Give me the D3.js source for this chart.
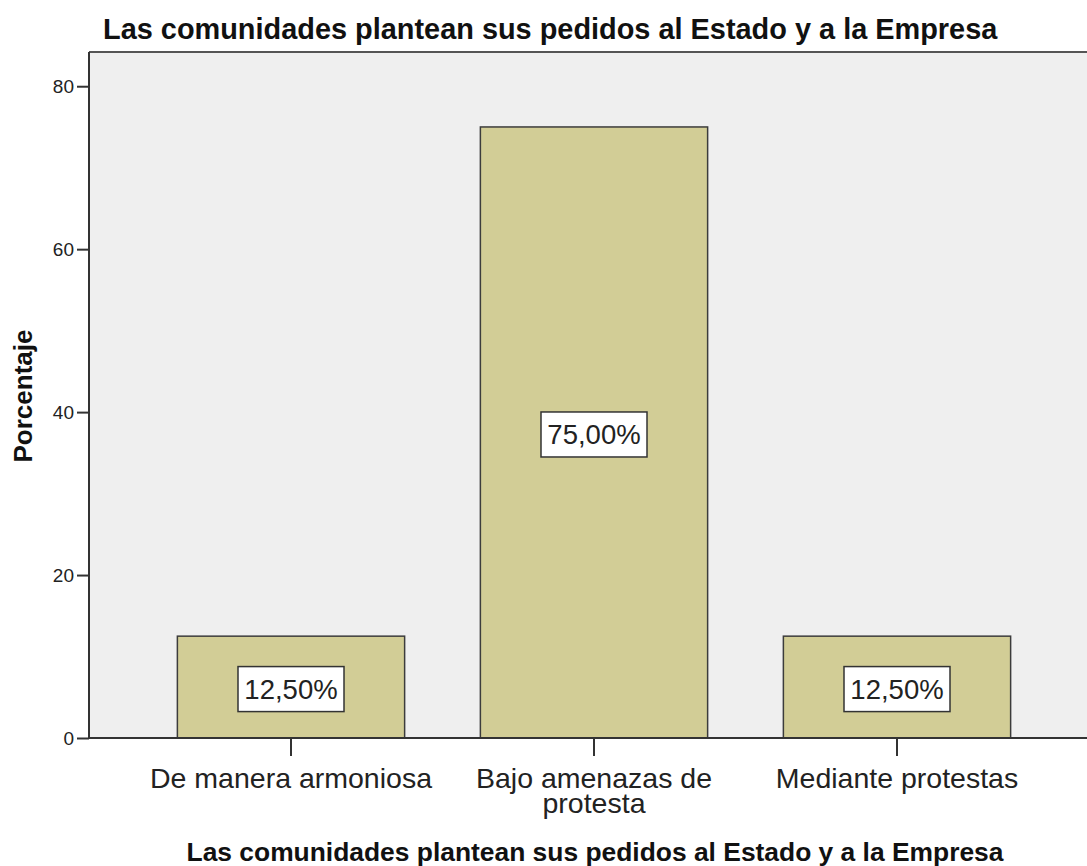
<!DOCTYPE html>
<html><head><meta charset="utf-8">
<script src="https://cdn.jsdelivr.net/npm/d3@7"></script>
<style>body{margin:0;background:#fff}svg{display:block}text{font-family:"Liberation Sans",Arial,sans-serif}</style>
</head><body><svg id="c" width="1087" height="866"></svg>
<script>
const title = "Las comunidades plantean sus pedidos al Estado y a la Empresa";
const categories = ["De manera armoniosa", "Bajo amenazas de\nprotesta", "Mediante protestas"];
const values = [12.5, 75.0, 12.5];
const valueLabels = ["12,50%", "75,00%", "12,50%"];
const yTicks = [0, 20, 40, 60, 80];
const yLabel = "Porcentaje";
const xLabel = "Las comunidades plantean sus pedidos al Estado y a la Empresa";

const svg = d3.select("#c");
const L = 89, T = 52, R = 1087, B = 738;
const y = d3.scaleLinear().domain([0, 84.2]).range([B, T]);
const x = d3.scaleBand().domain(categories).range([139.5, 1048.5]).paddingInner(0.25).paddingOuter(0.125);

svg.append("rect").attr("x", L).attr("y", T).attr("width", R - L).attr("height", B - T).attr("fill", "#efefef");
svg.append("line").attr("x1", L).attr("x2", R).attr("y1", T).attr("y2", T).attr("stroke", "#555").attr("stroke-width", 2);

svg.selectAll("rect.bar").data(values).join("rect").attr("class", "bar")
  .attr("x", (d, i) => x(categories[i])).attr("width", x.bandwidth())
  .attr("y", d => y(d)).attr("height", d => B - y(d))
  .attr("fill", "#d2cd96").attr("stroke", "#3c3c3c").attr("stroke-width", 1.5);

// Y axis
const ya = svg.append("g").attr("transform", `translate(${L},0)`)
  .call(d3.axisLeft(y).tickValues(yTicks).tickSize(12).tickPadding(3).tickSizeOuter(0));
ya.select(".domain").attr("d", `M0,${T}V${B}`).attr("stroke", "#333").attr("stroke-width", 2);
ya.selectAll(".tick line").attr("stroke", "#333").attr("stroke-width", 2);
ya.selectAll(".tick text").attr("font-size", 19).attr("fill", "#222").attr("font-family", "Liberation Sans, Arial");

// X axis
const xa = svg.append("g").attr("transform", `translate(0,${B})`)
  .call(d3.axisBottom(x).tickSize(18).tickSizeOuter(0).tickFormat(""));
xa.select(".domain").attr("d", `M${L},0H${R}`).attr("stroke", "#333").attr("stroke-width", 2);
xa.selectAll(".tick line").attr("stroke", "#333").attr("stroke-width", 2);

// category labels
categories.forEach(c => {
  const lines = c.split("\n");
  const t = svg.append("text").attr("text-anchor", "middle").attr("font-size", 28.5).attr("fill", "#222");
  lines.forEach((ln, j) => t.append("tspan").attr("x", x(c) + x.bandwidth() / 2).attr("y", 788 + j * 25).text(ln));
});

// value labels
values.forEach((v, i) => {
  const cx = x(categories[i]) + x.bandwidth() / 2;
  const cy = (y(v) + B) / 2 + 2;
  const g = svg.append("g");
  g.append("rect").attr("x", cx - 53).attr("y", cy - 22.5).attr("width", 106).attr("height", 45)
    .attr("fill", "#fff").attr("stroke", "#333").attr("stroke-width", 1.5);
  g.append("text").attr("x", cx).attr("y", cy + 10).attr("text-anchor", "middle")
    .attr("font-size", 27.5).attr("fill", "#222").text(valueLabels[i]);
});

svg.append("text").attr("x", 103).attr("y", 39).attr("font-size", 28.9).attr("font-weight", "bold").attr("fill", "#111").text(title);
svg.append("text").attr("transform", "translate(32,396) rotate(-90)").attr("text-anchor", "middle")
  .attr("font-size", 26).attr("font-weight", "bold").attr("fill", "#111").text(yLabel);
svg.append("text").attr("x", 595).attr("y", 861).attr("text-anchor", "middle").attr("font-size", 26.4)
  .attr("font-weight", "bold").attr("fill", "#111").text(xLabel);
</script></body></html>
